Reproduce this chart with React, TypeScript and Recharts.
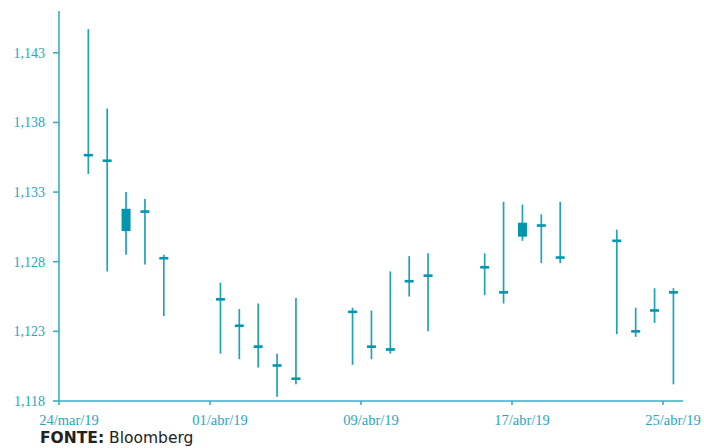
import React from "react";
import { ComposedChart, Bar, XAxis, YAxis } from "recharts";

// Trading days, counted in days from 24/mar/19; candles sit early afternoon of each day
const dayNames = [
  "25/mar", "26/mar", "27/mar", "28/mar", "29/mar",
  "01/abr", "02/abr", "03/abr", "04/abr", "05/abr",
  "08/abr", "09/abr", "10/abr", "11/abr", "12/abr",
  "15/abr", "16/abr", "17/abr", "18/abr", "19/abr",
  "22/abr", "23/abr", "24/abr", "25/abr",
];
const dayOffsets = [1, 2, 3, 4, 5, 8, 9, 10, 11, 12, 15, 16, 17, 18, 19, 22, 23, 24, 25, 26, 29, 30, 31, 32];
const timeOfDay = 0.55;

const highs = [1.1447, 1.139, 1.133, 1.1325, 1.1285, 1.1265, 1.1246, 1.125, 1.1214, 1.1254, 1.1247, 1.1245, 1.1273, 1.1284, 1.1286, 1.1286, 1.1323, 1.1321, 1.1314, 1.1323, 1.1303, 1.1247, 1.1261, 1.1261];
const lows = [1.1343, 1.1273, 1.1285, 1.1278, 1.1241, 1.1214, 1.121, 1.1204, 1.1183, 1.1192, 1.1206, 1.121, 1.1214, 1.1255, 1.123, 1.1256, 1.125, 1.1295, 1.1279, 1.1279, 1.1228, 1.1226, 1.1236, 1.1192];
const opens = [1.1357, 1.1353, 1.1318, 1.1316, 1.1282, 1.1253, 1.1234, 1.122, 1.1206, 1.1196, 1.1244, 1.1219, 1.1218, 1.1266, 1.127, 1.1276, 1.1258, 1.1298, 1.1306, 1.1283, 1.1295, 1.123, 1.1245, 1.1258];
const closes = [1.1356, 1.1352, 1.1302, 1.1316, 1.1283, 1.1253, 1.1234, 1.1218, 1.1205, 1.1196, 1.1244, 1.1219, 1.1216, 1.1266, 1.127, 1.1276, 1.1258, 1.1308, 1.1306, 1.1283, 1.1295, 1.123, 1.1245, 1.1258];

const xTicks = [0, 8, 16, 24, 32];
const xTickLabels = ["24/mar/19", "01/abr/19", "09/abr/19", "17/abr/19", "25/abr/19"];
const yTicks = [1.118, 1.123, 1.128, 1.133, 1.138, 1.143];

const data = dayNames.map((name, i) => ({
  name,
  t: dayOffsets[i] + timeOfDay,
  high: highs[i],
  low: lows[i],
  open: opens[i],
  close: closes[i],
}));

const AXIS = "#3aaec6";
const TEXT = "#27a6c2";
const WICK = "#1ea3bd";
const BODY = "#0396ae";

const Candle = (props: any) => {
  const { x, y, width, height, payload } = props;
  if (!payload || x == null || y == null) return null;
  const { high, low, open, close } = payload;
  const yTop = Math.min(y, y + height);
  const hPix = Math.abs(height);
  const k = hPix / (high - low);
  const yOf = (v: number) => yTop + (high - v) * k;
  const cx = x + width / 2;
  const top = yOf(Math.max(open, close));
  const bot = yOf(Math.min(open, close));
  let h = bot - top;
  let bt = top;
  const minH = 2.6;
  if (h < minH) {
    bt = (top + bot) / 2 - minH / 2;
    h = minH;
  }
  return (
    <g>
      <line x1={cx} x2={cx} y1={yTop} y2={yTop + hPix} stroke={WICK} strokeWidth={1.7} />
      <rect x={x} y={bt} width={width} height={h} fill={BODY} />
    </g>
  );
};

const XTick = (props: any) => {
  const { x, y, payload } = props;
  const idx = xTicks.indexOf(payload.value);
  return (
    <text
      x={x + 10}
      y={y}
      dy="0.71em"
      textAnchor="middle"
      fill={TEXT}
      fontFamily="'Liberation Serif', serif"
      fontSize={14.5}
    >
      {idx >= 0 ? xTickLabels[idx] : ""}
    </text>
  );
};

const YTick = (props: any) => {
  const { x, y, payload } = props;
  return (
    <text
      x={x}
      y={y}
      dy="0.355em"
      textAnchor="end"
      fill={TEXT}
      fontFamily="'Liberation Serif', serif"
      fontSize={14}
    >
      {Number(payload.value).toFixed(3).replace(".", ",")}
    </text>
  );
};

export default function App() {
  return (
    <div style={{ position: "absolute", left: 0, top: 0, width: 704, height: 448, background: "#fff" }}>
      <ComposedChart
        width={704}
        height={448}
        data={data}
        margin={{ top: 11, right: 21, left: 0, bottom: 17 }}
      >
        <XAxis
          dataKey="t"
          type="number"
          domain={[0, 33.06]}
          ticks={xTicks}
          interval={0}
          allowDataOverflow
          height={30}
          tickSize={4}
          tickMargin={10}
          axisLine={{ stroke: AXIS, strokeWidth: 1.6 }}
          tickLine={{ stroke: AXIS, strokeWidth: 1.6 }}
          tick={<XTick />}
        />
        <YAxis
          type="number"
          domain={[1.118, 1.146]}
          ticks={yTicks}
          interval={0}
          allowDataOverflow
          width={59}
          tickSize={6}
          tickMargin={8}
          axisLine={{ stroke: AXIS, strokeWidth: 1.6 }}
          tickLine={{ stroke: AXIS, strokeWidth: 1.6 }}
          tick={<YTick />}
        />
        <Bar
          dataKey={(d: any) => [d.low, d.high]}
          barSize={9}
          shape={<Candle />}
          isAnimationActive={false}
        />
      </ComposedChart>
      <div
        style={{
          position: "absolute",
          left: 40,
          top: 431,
          fontFamily: "'DejaVu Sans', sans-serif",
          fontSize: 15.5,
          lineHeight: "15.5px",
          color: "#222",
          whiteSpace: "nowrap",
        }}
      >
        <span style={{ fontWeight: 700 }}>FONTE:</span> Bloomberg
      </div>
    </div>
  );
}
